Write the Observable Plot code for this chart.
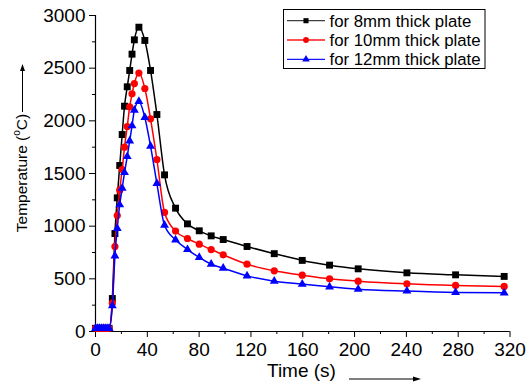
<!DOCTYPE html>
<html>
<head>
<meta charset="utf-8">
<script src="https://cdn.jsdelivr.net/npm/d3@7"></script>
<script src="https://cdn.jsdelivr.net/npm/@observablehq/plot@0.6"></script>
<style>
  html, body { margin: 0; padding: 0; background: #fff; }
  svg { font-family: "Liberation Sans", Arial, sans-serif; }
</style>
</head>
<body>
<div id="chart"></div>
<script>
// Time (s)
const time = [0, 1.5, 3, 4.5, 6, 7.5, 9, 10.5,
  13, 15, 16.8, 18.7, 20.6, 22.4, 24.5, 26.4, 28.2, 30, 33.5,
  38.1, 42.5, 47.4, 53.3, 61.8, 71, 80.1, 89.3, 98.6, 117, 138, 159.6, 180.7, 202.8, 240.4, 278, 315.5];
// Temperature (°C)
const temp8 = [30, 30, 30, 30, 30, 30, 30, 30,
  313, 930, 1269, 1576, 1870, 2139, 2323, 2478, 2633, 2769, 2889,
  2763, 2478, 2060, 1487, 1171, 1022, 956, 908, 873, 807, 739, 675, 630, 595, 557, 538, 523];
const temp10 = [30, 30, 30, 30, 30, 30, 30, 30,
  269, 807, 1101, 1342, 1538, 1750, 1946, 2133, 2256, 2354, 2453,
  2307, 2019, 1633, 1130, 953, 883, 829, 778, 728, 639, 576, 535, 500, 478, 453, 437, 428];
const temp12 = [30, 30, 30, 30, 30, 30, 30, 30,
  244, 718, 978, 1203, 1361, 1509, 1661, 1810, 1953, 2101, 2184,
  2032, 1759, 1405, 1009, 870, 778, 703, 639, 601, 528, 478, 450, 424, 402, 384, 371, 367];

const seriesNames = ["for 8mm thick plate", "for 10mm thick plate", "for 12mm thick plate"];
const seriesColors = ["#000000", "#ff0000", "#0000ff"];
const seriesSymbols = ["square", "circle", "triangle"];
const seriesValues = [temp8, temp10, temp12];

const xTicks = [0, 40, 80, 120, 160, 200, 240, 280, 320];
const xMinor = [20, 60, 100, 140, 180, 220, 260, 300];
const yTicks = [0, 500, 1000, 1500, 2000, 2500, 3000];
const yMinor = [250, 750, 1250, 1750, 2250, 2750];

const xLabel = "Time (s)";
const yLabelMain = "Temperature (";
const yLabelSup = "o";
const yLabelEnd = "C)";

const seriesData = seriesNames.map((name, k) =>
  time.map((t, i) => ({t, v: seriesValues[k][i], name})));

const markR = [3.9, 3.6, 3.3];

const marks = [
  Plot.axisX({ticks: xMinor, tickSize: 3, tickFormat: () => "", label: null}),
  Plot.axisY({ticks: yMinor, tickSize: 3, tickFormat: () => "", label: null}),
  Plot.axisX({ticks: xTicks, tickSize: 6, tickPadding: 5, fontSize: 19, label: null, tickFormat: d => String(d)}),
  Plot.axisY({ticks: yTicks, tickSize: 6, tickPadding: 4, fontSize: 19, label: null, tickFormat: d => String(d)}),
  Plot.ruleX([0], {stroke: "#000", strokeWidth: 1.2}),
  Plot.ruleY([0], {stroke: "#000", strokeWidth: 1.2})
];
seriesData.forEach((d, k) => {
  marks.push(Plot.line(d, {x: "t", y: "v", stroke: seriesColors[k], strokeWidth: 1.5, curve: "monotone-x"}));
  marks.push(Plot.dot(d, {x: "t", y: "v", symbol: seriesSymbols[k], fill: seriesColors[k], r: markR[k], stroke: "none"}));
});

const chart = Plot.plot({
  width: 527,
  height: 392,
  marginLeft: 95,
  marginRight: 17.5,
  marginTop: 15,
  marginBottom: 61,
  style: {fontFamily: "'Liberation Sans', Arial, sans-serif", color: "#000", background: "#fff"},
  x: {domain: [0, 320]},
  y: {domain: [0, 3000]},
  marks
});
document.getElementById("chart").appendChild(chart);

const svg = d3.select(chart);

// Y-axis title
const yl = svg.append("text")
  .attr("transform", "translate(27,173) rotate(-90)")
  .attr("text-anchor", "middle")
  .attr("font-size", 15.5)
  .attr("fill", "#000");
yl.append("tspan").text(yLabelMain);
yl.append("tspan").attr("font-size", 10).attr("dy", -7).text(yLabelSup);
yl.append("tspan").attr("dy", 7).text(yLabelEnd);
// Y arrow
svg.append("line").attr("x1", 22.5).attr("x2", 22.5).attr("y1", 112).attr("y2", 70)
  .attr("stroke", "#000").attr("stroke-width", 1);
svg.append("path").attr("d", "M22.5,64 L20,71 L25,71 Z").attr("fill", "#000");

// X-axis title
svg.append("text").attr("x", 267).attr("y", 377).attr("text-anchor", "start")
  .attr("font-size", 19).attr("fill", "#000").text(xLabel);
svg.append("line").attr("x1", 349).attr("x2", 414).attr("y1", 379).attr("y2", 379)
  .attr("stroke", "#000").attr("stroke-width", 1);
svg.append("path").attr("d", "M421,379 L413,376.5 L413,381.5 Z").attr("fill", "#000");

// Legend
const lg = svg.append("g");
lg.append("rect").attr("x", 283.5).attr("y", 9.5).attr("width", 201.5).attr("height", 59)
  .attr("fill", "#fff").attr("stroke", "#000").attr("stroke-width", 1);
const legendY = [20.7, 40, 59.3];
const legendSym = [d3.symbolSquare, d3.symbolCircle, d3.symbolTriangle];
const legendSize = [26, 26, 24];
seriesNames.forEach((name, k) => {
  const y = legendY[k];
  lg.append("line").attr("x1", 287).attr("x2", 325).attr("y1", y).attr("y2", y)
    .attr("stroke", seriesColors[k]).attr("stroke-width", 1.3).attr("opacity", k === 0 ? 0.75 : 0.9);
  lg.append("path").attr("d", d3.symbol(legendSym[k], legendSize[k])())
    .attr("transform", `translate(306,${y})`).attr("fill", seriesColors[k]);
  lg.append("text").attr("x", 329.5).attr("y", y).attr("dy", "0.35em").attr("text-anchor", "start")
    .attr("font-size", 16.8).attr("fill", "#000").text(name);
});
</script>
</body>
</html>
